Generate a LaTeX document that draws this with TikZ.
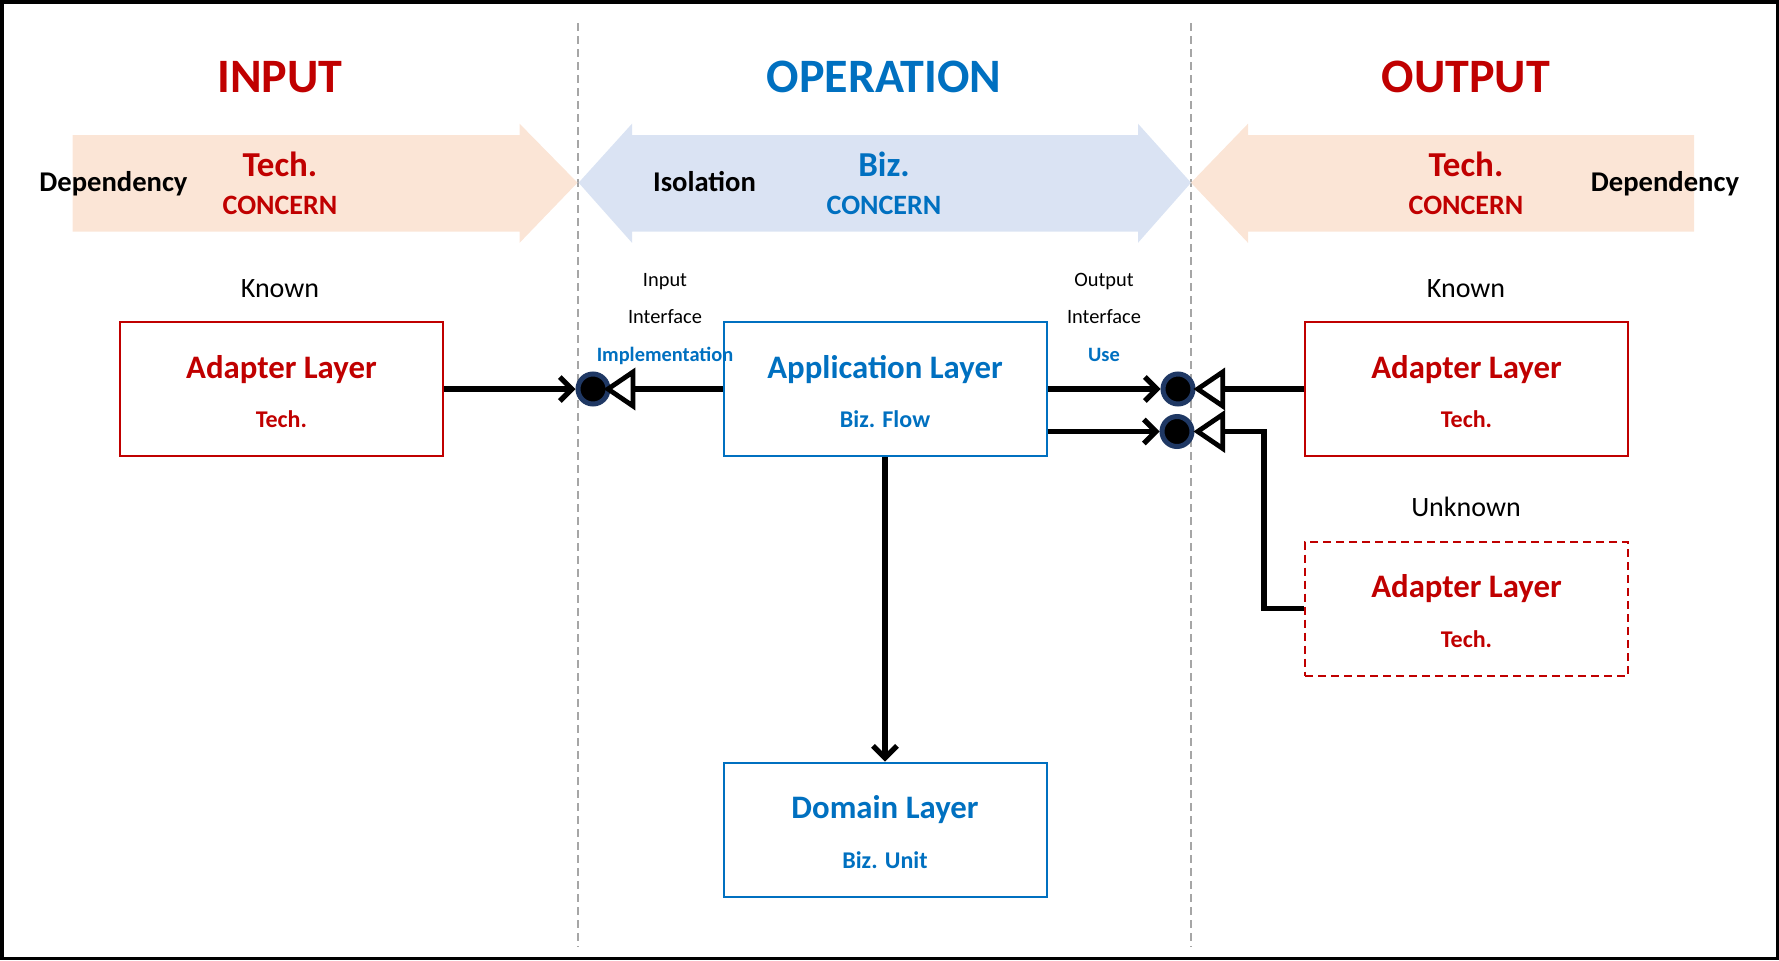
\documentclass[tikz,border=0pt]{standalone}
\usepackage{fontspec}
\setmainfont{Carlito}
\usetikzlibrary{arrows.meta}
\definecolor{techred}{HTML}{C00000}
\definecolor{bizblue}{HTML}{0070C0}
\definecolor{techpeach}{HTML}{FBE5D6}
\definecolor{bizpale}{HTML}{DAE3F3}
\definecolor{ringnavy}{HTML}{1F3864}
\definecolor{sepgray}{HTML}{A6A6A6}

\begin{document}
\begin{tikzpicture}[x=0.5pt,y=-0.5pt,
  >={Straight Barb[length=6pt,width=12pt]},
  ttl/.style={anchor=base,font=\bfseries\fontsize{24}{29}\selectfont},
  concern/.style={anchor=base,font=\bfseries\fontsize{17.5}{21}\selectfont},
  concernsub/.style={anchor=base,font=\bfseries\fontsize{14}{17}\selectfont},
  side/.style={anchor=base,font=\bfseries\fontsize{14.3}{17}\selectfont},
  known/.style={anchor=base,font=\fontsize{14}{17}\selectfont},
  iface/.style={anchor=base,font=\fontsize{10.2}{12}\selectfont},
  ifacekind/.style={anchor=base,text=bizblue,font=\bfseries\fontsize{10.2}{12}\selectfont},
  layer/.style={draw,line width=1pt,minimum width=161.5pt,minimum height=67pt,inner sep=0pt},
  layername/.style={anchor=base,font=\bfseries\fontsize{16.4}{20}\selectfont},
  layerrole/.style={anchor=base,font=\bfseries\fontsize{12}{14}\selectfont},
  wire/.style={line width=2.6pt},
  plug/.style={circle,fill=black,draw=ringnavy,line width=2.5pt,minimum size=15pt,inner sep=0pt},
  socket/.style={draw=black,fill=white,line width=2.4pt},
  sep/.style={sepgray,line width=1pt,dash pattern=on 4pt off 2.5pt}]
\useasboundingbox (0,0) rectangle (1779,960);
\draw[line width=1.75pt] (1.75,1.75) rectangle (1777.25,958.25);

% zones
\draw[sep] (577.5,23) -- (577.5,947);
\draw[sep] (1191,23) -- (1191,947);
\fill[techpeach] (72.6,135) -- (519.6,135) -- (519.6,123.7) -- (577.5,182.7)
  -- (519.6,242.8) -- (519.6,231.5) -- (72.6,231.5) -- cycle;
\fill[bizpale] (578.6,182.7) -- (632,123.7) -- (632,135) -- (1138,135) -- (1138,123.7)
  -- (1191,182.7) -- (1138,242.8) -- (1138,231.5) -- (632,231.5) -- (632,242.8) -- cycle;
\fill[techpeach] (1191,182.7) -- (1248,123.7) -- (1248,135) -- (1694,135)
  -- (1694,231.5) -- (1248,231.5) -- (1248,242.8) -- cycle;

\node[ttl,text=techred] (inTitle) at (280,92) {INPUT};
\node[ttl,text=bizblue] (opTitle) at (884,92) {OPERATION};
\node[ttl,text=techred] (outTitle) at (1466,92) {OUTPUT};

\node[concern,text=techred] (inTech) at (280,176.7) {Tech.};
\node[concernsub,text=techred] (inConcern) at (280,214) {CONCERN};
\node[concern,text=bizblue] (opBiz) at (884,176.7) {Biz.};
\node[concernsub,text=bizblue] (opConcern) at (884,214) {CONCERN};
\node[concern,text=techred] (outTech) at (1466,176.7) {Tech.};
\node[concernsub,text=techred] (outConcern) at (1466,214) {CONCERN};
\node[side] (inDep) at (113.5,191.5) {Dependency};
\node[side] (opIso) at (704.5,191.5) {Isolation};
\node[side] (outDep) at (1665,191.5) {Dependency};

\node[known] (inKnown) at (280,297.7) {Known};
\node[known] (outKnown) at (1466,297.7) {Known};
\node[known] (outUnknown) at (1466,516.7) {Unknown};

% layers
\node[layer,draw=techred] (adapL) at (281.4,389) {};
\node[layer,draw=bizblue] (app) at (885,389) {};
\node[layer,draw=techred] (adapR) at (1466.5,389) {};
\node[layer,draw=techred,dash pattern=on 4pt off 2.5pt] (adapU) at (1466.5,608.7) {};
\node[layer,draw=bizblue] (domain) at (885,829.5) {};

\node[layername,text=techred] at ([yshift=-28.5pt]adapL.north) {Adapter Layer};
\node[layerrole,text=techred] at ([yshift=-53.3pt]adapL.north) {Tech.};
\node[layername,text=bizblue] at ([yshift=-28.5pt]app.north) {Application Layer};
\node[layerrole,text=bizblue] at ([yshift=-53.3pt]app.north) {Biz. Flow};
\node[layername,text=techred] at ([yshift=-28.5pt]adapR.north) {Adapter Layer};
\node[layerrole,text=techred] at ([yshift=-53.3pt]adapR.north) {Tech.};
\node[layername,text=techred] at ([yshift=-28.5pt]adapU.north) {Adapter Layer};
\node[layerrole,text=techred] at ([yshift=-53.3pt]adapU.north) {Tech.};
\node[layername,text=bizblue] at ([yshift=-28.5pt]domain.north) {Domain Layer};
\node[layerrole,text=bizblue] at ([yshift=-53.3pt]domain.north) {Biz. Unit};

% interfaces
\node[iface] (inLbl) at (665,286) {Input};
\node[iface] (inIface) at (665,323.3) {Interface};
\node[ifacekind] (inImpl) at (665,361.7) {Implementation};
\node[iface] (outLbl) at (1104,286) {Output};
\node[iface] (outIface) at (1104,323.3) {Interface};
\node[ifacekind] (outUse) at (1104,361.7) {Use};

\node[plug] (plugIn) at (593,389) {};
\node[plug] (plugOut) at (1178,389) {};
\node[plug] (plugOut2) at (1177,431.5) {};
\coordinate (sockIn) at (633,389);
\coordinate (sockOut) at (1222.7,389);
\coordinate (sockOut2) at (1222.7,431.5);
\coordinate (elbow) at (1264,0);

\draw[wire,->] (adapL.east) -- (plugIn.west);
\draw[wire] (sockIn) -- (app.west);
\draw[wire,->] (app.east) -- (plugOut.west);
\draw[wire] (sockOut) -- (adapR.west);
\draw[wire,->] (app.east |- plugOut2) -- (plugOut2.west);
\draw[wire] (sockOut2) -| (elbow |- adapU.west) -- (adapU.west);
\draw[wire,->] (app.south) -- (domain.north);

\draw[socket] (sockIn) ++(0,-17) -- ++(0,34) -- ++(-25,-17) -- cycle;
\draw[socket] (sockOut) ++(0,-17) -- ++(0,34) -- ++(-25,-17) -- cycle;
\draw[socket] (sockOut2) ++(0,-17) -- ++(0,34) -- ++(-25,-17) -- cycle;
\end{tikzpicture}
\end{document}
